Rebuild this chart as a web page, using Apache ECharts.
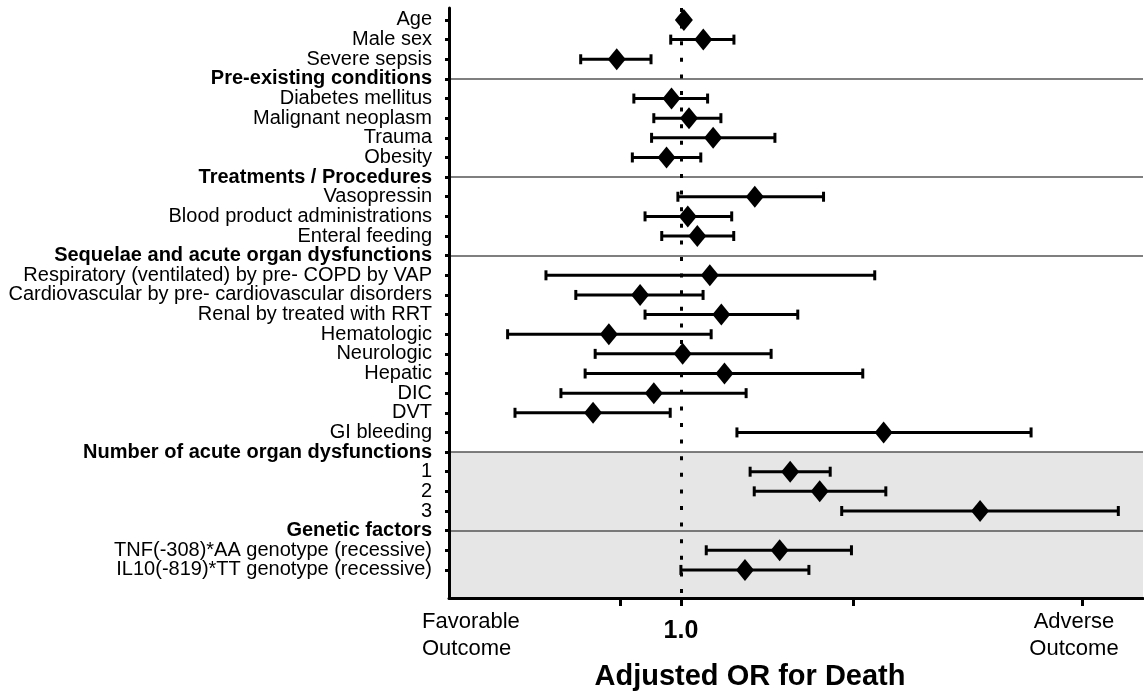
<!DOCTYPE html>
<html>
<head>
<meta charset="utf-8">
<title>Adjusted OR for Death</title>
<script src="https://cdn.jsdelivr.net/npm/echarts@6/dist/echarts.min.js"></script>
<style>
  html, body { margin: 0; padding: 0; background: #fff; }
  #chart { width: 1144px; height: 694px; }
</style>
</head>
<body>
<div id="chart"></div>
<script>
// rows, top to bottom
const rowLabels = [
  'Age', 'Male sex', 'Severe sepsis',
  'Pre-existing conditions',
  'Diabetes mellitus', 'Malignant neoplasm', 'Trauma', 'Obesity',
  'Treatments / Procedures',
  'Vasopressin', 'Blood product administrations', 'Enteral feeding',
  'Sequelae and acute organ dysfunctions',
  'Respiratory (ventilated) by pre- COPD by VAP',
  'Cardiovascular by pre- cardiovascular disorders',
  'Renal by treated with RRT',
  'Hematologic', 'Neurologic', 'Hepatic', 'DIC', 'DVT', 'GI bleeding',
  'Number of acute organ dysfunctions',
  '1', '2', '3',
  'Genetic factors',
  'TNF(-308)*AA genotype (recessive)',
  'IL10(-819)*TT genotype (recessive)'
]
const headerLabels = [
  'Pre-existing conditions',
  'Treatments / Procedures',
  'Sequelae and acute organ dysfunctions',
  'Number of acute organ dysfunctions',
  'Genetic factors'
]
// odds ratio and 95% CI (null = header row)
const oddsRatio = [1.012, 1.094, 0.773, null, 0.963, 1.033, 1.138, 0.944, null,
  1.345, 1.028, 1.068, null, 1.123, 0.849, 1.176, 0.749, 1.007, 1.191, 0.897,
  0.703, 2.255, null, 1.55, 1.745, 3.32, null, 1.486, 1.293]
const ciLower = [1.0, 0.96, 0.669, null, 0.828, 0.897, 0.889, 0.823, null,
  0.988, 0.866, 0.926, null, 0.582, 0.656, 0.866, 0.499, 0.709, 0.681, 0.618,
  0.514, 1.252, null, 1.32, 1.342, 1.906, null, 1.107, 1.0]
const ciUpper = [1.025, 1.237, 0.887, null, 1.113, 1.174, 1.458, 1.083, null,
  1.772, 1.226, 1.236, null, 2.176, 1.093, 1.598, 1.129, 1.436, 2.074, 1.299,
  0.958, 4.074, null, 1.82, 2.275, 5.781, null, 1.982, 1.671]
// x axis ticks (OR)
const xTicks = [0.785, 1, 2, 5]
const shadedFrom = 22

const log = Math.log10
const headerRows = rowLabels.map((l, i) => headerLabels.includes(l) ? i : -1).filter(i => i >= 0)
const rowIdx = rowLabels.map((_, i) => i)
const xMin = -0.404
const xMax = 0.805
const yMin = -0.61
const yMax = 29.43

const points = []
const bars = []
oddsRatio.forEach((v, i) => {
  if (v == null) return
  points.push([log(v), i])
  bars.push([log(ciLower[i]), log(ciUpper[i]), i])
})

const font = "'Liberation Sans', Arial, sans-serif"

const chart = echarts.init(document.getElementById('chart'))
chart.setOption({
  animation: false,
  grid: { left: 449, right: 1, top: 8, bottom: 96 },
  xAxis: {
    type: 'value',
    z: 5,
    min: xMin,
    max: xMax,
    splitLine: { show: false },
    axisLine: { onZero: false, lineStyle: { color: '#000', width: 3 } },
    axisTick: {
      customValues: xTicks.map(log),
      length: 8,
      lineStyle: { color: '#000', width: 3 }
    },
    axisLabel: {
      customValues: [0],
      formatter: () => '1.0',
      margin: 21,
      color: '#000',
      fontFamily: font,
      fontWeight: 'bold',
      fontSize: 25
    }
  },
  yAxis: {
    type: 'value',
    z: 5,
    inverse: true,
    min: yMin,
    max: yMax,
    splitLine: { show: false },
    axisLine: { onZero: false, lineStyle: { color: '#000', width: 3 } },
    axisTick: {
      customValues: rowIdx,
      length: 4,
      lineStyle: { color: '#000', width: 3 }
    },
    axisLabel: { show: false }
  },
  graphic: [
    {
      type: 'text', left: 422, top: 608,
      style: { text: 'Favorable\nOutcome', font: '22px ' + font, lineHeight: 27, fill: '#000' }
    },
    {
      type: 'text', x: 1074, y: 608,
      style: { text: 'Adverse\nOutcome', font: '22px ' + font, lineHeight: 27, fill: '#000', align: 'center' }
    },
    {
      type: 'text', x: 750, y: 677,
      style: { text: 'Adjusted OR for Death', font: 'bold 29px ' + font, fill: '#000', align: 'center', verticalAlign: 'middle' }
    }
  ],
  series: [
    {
      // background band + separators + reference line
      type: 'scatter',
      data: [],
      z: 1,
      silent: true,
      markArea: {
        silent: true,
        itemStyle: { color: '#e6e6e6' },
        data: [[{ yAxis: shadedFrom }, { yAxis: yMax }]]
      },
      markLine: {
        silent: true,
        symbol: 'none',
        label: { show: false },
        data: headerRows.map(r => ({ yAxis: r, lineStyle: { color: '#555', width: 1.5, type: 'solid' } }))
          .concat([{ xAxis: 0, lineStyle: { color: '#000', width: 3, type: [4, 12.6] } }])
      }
    },
    {
      // row labels, left of the y axis
      type: 'scatter',
      silent: true,
      z: 6,
      symbolSize: 0,
      itemStyle: { opacity: 1 },
      data: rowLabels.map((name, i) => ({ value: [xMin, i], name: name })),
      label: {
        show: true,
        position: 'left',
        distance: 17,
        color: '#000',
        fontFamily: font,
        fontSize: 20,
        formatter: p => headerLabels.includes(p.name) ? '{b|' + p.name + '}' : p.name,
        rich: {
          b: { fontWeight: 'bold', fontFamily: font, fontSize: 20, color: '#000' }
        }
      }
    },
    {
      type: 'custom',
      z: 3,
      data: bars,
      encode: { x: [0, 1], y: 2 },
      renderItem: (params, api) => {
        const y = api.value(2)
        const a = api.coord([api.value(0), y])
        const b = api.coord([api.value(1), y])
        const cap = 5
        const st = { stroke: '#000', lineWidth: 3 }
        return {
          type: 'group',
          children: [
            { type: 'line', shape: { x1: a[0], y1: a[1], x2: b[0], y2: b[1] }, style: st },
            { type: 'line', shape: { x1: a[0], y1: a[1] - cap, x2: a[0], y2: a[1] + cap }, style: st },
            { type: 'line', shape: { x1: b[0], y1: b[1] - cap, x2: b[0], y2: b[1] + cap }, style: st }
          ]
        }
      }
    },
    {
      type: 'scatter',
      z: 4,
      data: points,
      symbol: 'diamond',
      symbolSize: [18, 22],
      itemStyle: { color: '#000', opacity: 1 }
    }
  ]
})
</script>
</body>
</html>
